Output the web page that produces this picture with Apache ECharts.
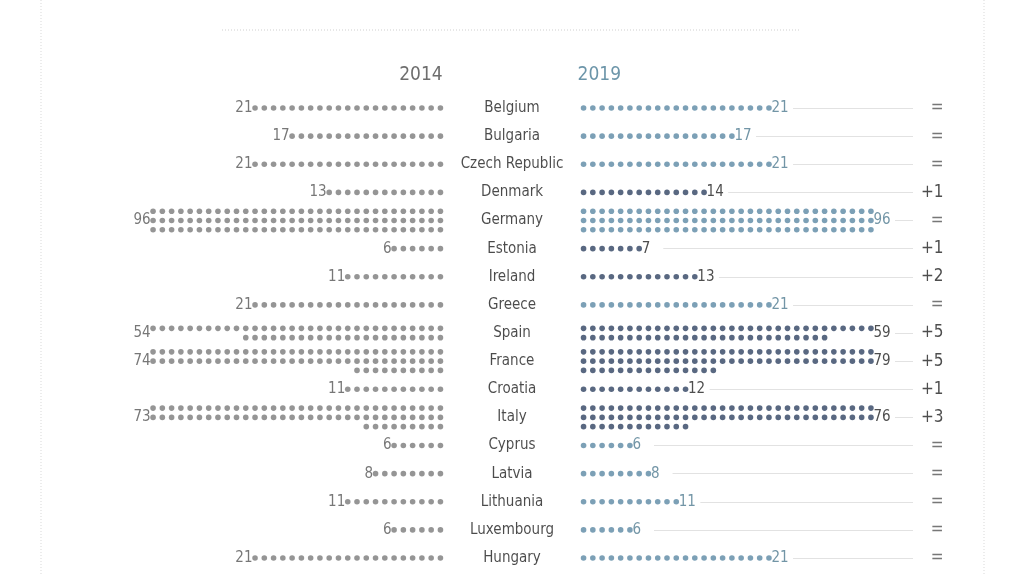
<!DOCTYPE html>
<html>
<head>
<meta charset="utf-8">
<style>
  html, body { margin: 0; padding: 0; background: #fff; }
  #chart { width: 1024px; height: 575px; }
</style>
<script src="https://cdn.jsdelivr.net/npm/echarts@6/dist/echarts.min.js"></script>
</head>
<body>
<div id="chart"></div>
<script>
(function () {
  // ===== data =====
  var countries = ['Belgium', 'Bulgaria', 'Czech Republic', 'Denmark', 'Germany', 'Estonia', 'Ireland', 'Greece',
    'Spain', 'France', 'Croatia', 'Italy', 'Cyprus', 'Latvia', 'Lithuania', 'Luxembourg', 'Hungary'];
  var seats2014 = [21, 17, 21, 13, 96, 6, 11, 21, 54, 74, 11, 73, 6, 8, 11, 6, 21];
  var seats2019 = [21, 17, 21, 14, 96, 7, 13, 21, 59, 79, 12, 76, 6, 8, 11, 6, 21];
  var years = ['2014', '2019'];

  // ===== layout =====
  var FONT = '"Liberation Sans Narrow", "DejaVu Sans Condensed", sans-serif';
  var UNIT = 9.27;          // px per dot step
  var PER_ROW = 32;         // dots per row
  var GAP = 7.72;           // distance from centre to first dot, in dot steps
  var ROW_PX = 28.125;      // px between countries
  var ROW_STEP = UNIT / ROW_PX;
  var X_HALF = 512 / UNIT;
  var LINE_END = (913 - 512) / UNIT;
  var CHANGE_X = (944 - 512) / UNIT;

  var grey = '#7b7b7b', steel = '#5b88a4', navy = '#2f4262';

  var diff = seats2019.map(function (v, i) { return v - seats2014[i]; });

  // one point per seat, rows of PER_ROW centred on the country's line
  function dots(seats, side) {
    var pts = [];
    seats.forEach(function (n, r) {
      var rows = Math.ceil(n / PER_ROW);
      for (var k = 0; k < rows; k++) {
        var cnt = Math.min(PER_ROW, n - k * PER_ROW);
        var y = r + (k - (rows - 1) / 2) * ROW_STEP;
        for (var j = 0; j < cnt; j++) pts.push([side * (GAP + j), y, diff[r]]);
      }
    });
    return pts;
  }

  function farX(n, side) { return side * (GAP + Math.min(n, PER_ROW) - 1); }

  var leftNums = seats2014.map(function (n, r) { return [farX(n, -1), r, n]; });
  var rightNums = seats2019.map(function (n, r) { return [farX(n, 1), r, n, diff[r]]; });
  var names = countries.map(function (c, r) { return [0, r, c]; });
  var changes = diff.map(function (d, r) { return [CHANGE_X, r, d === 0 ? '=' : '+' + d, d]; });
  var connectors = seats2019.map(function (n, r) {
    return [{ coord: [farX(n, 1) + 2.6, r] }, { coord: [LINE_END, r] }];
  });

  var chart = echarts.init(document.getElementById('chart'), null, { renderer: 'canvas' });

  var hidden = { color: 'transparent' };

  chart.setOption({
    animation: false,
    backgroundColor: '#fff',
    grid: { left: 0, right: 0, top: 0, bottom: 0 },
    xAxis: { type: 'value', min: -X_HALF, max: X_HALF, show: false },
    yAxis: { type: 'value', min: -108 / ROW_PX, max: (575 - 108) / ROW_PX, inverse: true, show: false },
    series: [
      {
        name: '2014', type: 'scatter', data: dots(seats2014, -1),
        symbolSize: 5.6, itemStyle: { color: grey }, silent: true
      },
      {
        name: '2019', type: 'scatter', data: dots(seats2019, 1),
        symbolSize: 5.6, silent: true,
        itemStyle: { color: function (p) { return p.data[2] > 0 ? navy : steel; } }
      },
      {
        name: 'left numbers', type: 'scatter', data: leftNums, symbolSize: 1, itemStyle: hidden, silent: true,
        label: {
          show: true, position: 'left', distance: 2, color: '#555', fontSize: 15, fontFamily: FONT,
          formatter: function (p) { return p.data[2]; }
        }
      },
      {
        name: 'right numbers', type: 'scatter', data: rightNums, symbolSize: 1, itemStyle: hidden, silent: true,
        label: {
          show: true, position: 'right', distance: 2, fontSize: 15, fontFamily: FONT,
          formatter: function (p) { return '{' + (p.data[3] > 0 ? 'up' : 'eq') + '|' + p.data[2] + '}'; },
          rich: {
            up: { color: '#222', fontSize: 15, fontFamily: FONT },
            eq: { color: '#4f7a90', fontSize: 15, fontFamily: FONT }
          }
        },
        markLine: {
          silent: true, symbol: 'none', label: { show: false },
          lineStyle: { color: '#e2e2e2', width: 1, type: 'solid' },
          data: connectors
        }
      },
      {
        name: 'countries', type: 'scatter', data: names, symbolSize: 1, itemStyle: hidden, silent: true,
        label: {
          show: true, position: 'inside', color: '#1e1e1e', fontSize: 15, fontFamily: FONT,
          formatter: function (p) { return p.data[2]; }
        }
      },
      {
        name: 'change', type: 'scatter', data: changes, symbolSize: 1, itemStyle: hidden, silent: true,
        label: {
          show: true, position: 'left', distance: 0, fontFamily: FONT,
          formatter: function (p) { return '{' + (p.data[3] > 0 ? 'up' : 'eq') + '|' + p.data[2] + '}'; },
          rich: {
            up: { color: '#222', fontSize: 17, fontFamily: FONT },
            eq: { color: '#555', fontSize: 17, fontFamily: FONT }
          }
        }
      },
      {
        name: 'years', type: 'scatter', symbolSize: 1, itemStyle: hidden, silent: true,
        data: [
          { value: [-GAP + 0.3, -33 / ROW_PX], name: years[0], label: { position: 'left', color: '#4a4a4a' } },
          { value: [GAP - 0.7, -33 / ROW_PX], name: years[1], label: { position: 'right', color: '#477a93' } }
        ],
        label: { show: true, distance: 0, fontSize: 19, fontFamily: FONT, formatter: '{b}' }
      }
    ],
    graphic: [
      { type: 'line', shape: { x1: 41, y1: 0, x2: 41, y2: 575 }, style: { stroke: '#d9d9d9', lineWidth: 1, lineDash: [1, 2] } },
      { type: 'line', shape: { x1: 984, y1: 0, x2: 984, y2: 575 }, style: { stroke: '#d9d9d9', lineWidth: 1, lineDash: [1, 2] } },
      { type: 'line', shape: { x1: 222, y1: 30, x2: 800, y2: 30 }, style: { stroke: '#cfcfcf', lineWidth: 1, lineDash: [1, 2] } }
    ]
  });
})();
</script>
</body>
</html>
